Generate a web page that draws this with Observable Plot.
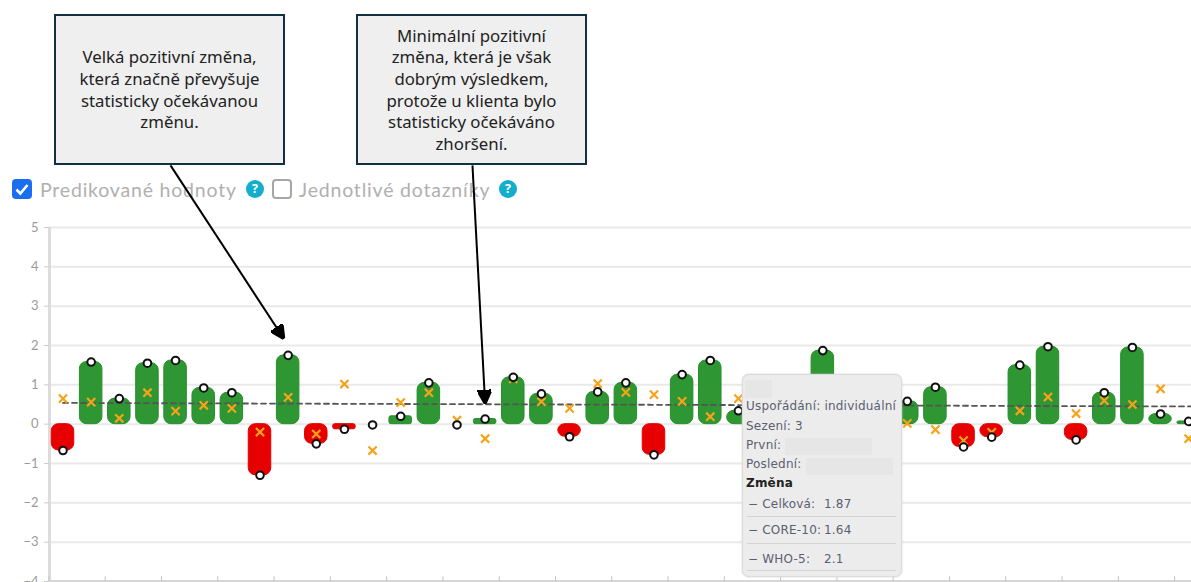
<!DOCTYPE html>
<html lang="cs">
<head>
<meta charset="utf-8">
<script src="https://cdn.jsdelivr.net/npm/d3@7"></script>
<script src="https://cdn.jsdelivr.net/npm/@observablehq/plot@0.6"></script>
<style>
html,body{margin:0;padding:0;background:#fff;overflow:hidden}
#page{position:relative;width:1191px;height:582px;overflow:hidden;font-family:"Open Sans",sans-serif}
#legend{position:absolute;left:0;top:0;width:100%;height:210px;color:#b0b0b0;font-family:"Lato","Open Sans",sans-serif;font-size:19.5px;letter-spacing:.8px}
#legend span,#legend i{position:absolute;font-style:normal}
.lbl{top:177px;line-height:26px;white-space:nowrap}
.box{position:absolute;top:179px;width:20px;height:20px;box-sizing:border-box;border-radius:4px}
.on{left:12px;background:#1a6ff0;}
.off{left:272px;border:2px solid #a6a6a6;background:#fff}
.q{position:absolute;top:180px;width:18px;height:18px;border-radius:50%;background:#12aecb;color:#fff;font:bold 12.5px/18px "Open Sans",sans-serif;text-align:center;letter-spacing:0}
#chart{position:absolute;left:0;top:0}
.callout{position:absolute;top:14px;width:231px;height:151px;box-sizing:border-box;border:2px solid #12303f;background:#efefef;color:#222;font-family:"Noto Sans",sans-serif;font-size:16.8px;line-height:21.6px;text-align:center;display:flex;align-items:center;justify-content:center}
#tip{position:absolute;left:742px;top:374px;width:160px;height:203px;box-sizing:border-box;background:#ececec;border:1.5px solid #dcdcdc;border-radius:7px;box-shadow:0 0 2px #ccc;color:#5a6070;font-family:"DejaVu Sans",sans-serif;font-size:12px;letter-spacing:.2px}
#tip div{position:absolute;white-space:nowrap}
#tip .g{background:#e6e6e6}
#tip hr{position:absolute;left:4px;right:5px;margin:0;border:0;border-top:1px solid #d4d4d4}
</style>
</head>
<body>
<div id="page">
  <div id="legend">
    <i class="box on"><svg width="20" height="20" viewBox="0 0 20 20"><path d="M4.5 10.5l3.8 4L15.5 6" fill="none" stroke="#fff" stroke-width="2.6"/></svg></i>
    <span class="lbl" style="left:40px">Predikované hodnoty</span>
    <i class="q" style="left:246px">?</i>
    <i class="box off"></i>
    <span class="lbl" style="left:299px">Jednotlivé dotazníky</span>
    <i class="q" style="left:499px">?</i>
  </div>
  <div id="chart"></div>
  <div class="callout" style="left:54px"><span>Velká pozitivní změna,<br>která značně převyšuje<br>statisticky očekávanou<br>změnu.</span></div>
  <div class="callout" style="left:356px"><span>Minimální pozitivní<br>změna, která je však<br>dobrým výsledkem,<br>protože u klienta bylo<br>statisticky očekáváno<br>zhoršení.</span></div>
  <div id="tip">
    <div class="g" style="left:2px;top:5px;width:27px;height:18px"></div>
    <div style="left:3px;top:24px">Uspořádání: individuální</div>
    <div style="left:3px;top:44px">Sezení: 3</div>
    <div style="left:3px;top:63px">První:</div>
    <div class="g" style="left:42px;top:63px;width:87px;height:17px"></div>
    <div style="left:3px;top:82px">Poslední:</div>
    <div class="g" style="left:63px;top:83px;width:87px;height:17px"></div>
    <div style="left:3px;top:101px;color:#222;font-weight:bold">Změna</div>
    <div style="left:5px;top:122px">− Celková:</div><div style="left:81px;top:122px">1.87</div>
    <hr style="top:141px">
    <div style="left:5px;top:148px">− CORE-10:</div><div style="left:81px;top:148px">1.64</div>
    <hr style="top:168px">
    <div style="left:5px;top:177px">− WHO-5:</div><div style="left:81px;top:177px">2.1</div>
    <hr style="top:195px">
  </div>
</div>
<script>
// Celková změna per client; null = hidden by the tooltip in the source picture
const totalChange = [-0.67,1.58,0.65,1.55,1.62,0.92,0.80,-1.30,1.75,-0.50,-0.13,-0.02,0.20,1.05,-0.02,0.13,1.19,0.77,-0.32,0.82,1.05,-0.78,1.26,1.62,0.34,null,null,1.87,null,null,0.58,0.94,-0.58,-0.33,1.50,1.97,-0.40,0.80,1.95,0.26,0.07];
const predictedChange = [0.65,0.56,0.15,0.80,0.33,0.48,0.40,-0.20,0.68,-0.25,1.02,-0.67,0.55,0.80,0.10,-0.37,1.15,0.57,0.40,1.03,0.81,0.75,0.58,0.19,0.65,null,null,null,null,null,0.02,-0.14,-0.42,-0.21,0.34,0.69,0.27,0.60,0.50,0.90,-0.37];
const clientIndex = totalChange.map((_, i) => i);
const yTicks = [-4,-3,-2,-1,0,1,2,3,4,5];
const xTicks = [-0.5,1.5,3.5,5.5,7.5,9.5,11.5,13.5,15.5,17.5,19.5,21.5,23.5,25.5,27.5,29.5,31.5,33.5,35.5,37.5,39.5];
const trendX = [0,40.1];
const trendY = [0.54,0.45];
const arrowFromX = [3.82,14.55];
const arrowFromY = [6.58,6.58];
const arrowToX = [7.85,15.0];
const arrowToY = [2.17,0.52];

const rows = clientIndex.map(i => ({i, total: totalChange[i], predicted: predictedChange[i]}));
const trend = trendX.map((x, k) => ({x, y: trendY[k]}));
const arrows = arrowFromX.map((_, k) => ({x1: arrowFromX[k], y1: arrowFromY[k], x2: arrowToX[k], y2: arrowToY[k]}));

function solidHead() {
  const ns = "http://www.w3.org/2000/svg";
  const m = document.createElementNS(ns, "marker");
  m.setAttribute("viewBox", "0 0 10 10");
  m.setAttribute("refX", "10");
  m.setAttribute("refY", "5");
  m.setAttribute("markerWidth", "14");
  m.setAttribute("markerHeight", "14");
  m.setAttribute("markerUnits", "userSpaceOnUse");
  m.setAttribute("orient", "auto");
  const p = document.createElementNS(ns, "path");
  p.setAttribute("d", "M0 0L10 5L0 10Z");
  p.setAttribute("fill", "#000");
  m.appendChild(p);
  return m;
}

const barProps = {x1: d => d.i - 0.4, x2: d => d.i + 0.4, y1: 0, y2: "total"};
const large = d => Math.abs(d.total) >= 0.25;
const small = d => Math.abs(d.total) >= 0.05 && Math.abs(d.total) < 0.25;

const chart = Plot.plot({
  width: 1191,
  height: 582,
  marginLeft: 49,
  marginRight: 0,
  marginTop: 227,
  marginBottom: 1,
  style: {background: "transparent", overflow: "visible"},
  x: {domain: [-0.48, 40.1], axis: null},
  y: {domain: [-4, 5]},
  marks: [
    Plot.gridY(yTicks, {stroke: "#e9e9e9", strokeOpacity: 1, strokeWidth: 2}),
    Plot.ruleX([-0.48], {stroke: "#dcdcdc", strokeWidth: 3, y1: -4, y2: 5}),
    Plot.ruleY([-4], {stroke: "#d6d6d6", strokeWidth: 3}),
    Plot.ruleX(xTicks, {y1: -4, y2: -3.88, stroke: "#c4c4c4"}),
    Plot.axisY({ticks: yTicks, tickSize: 5, tickPadding: 6, stroke: "#ccc", color: "#9a9a9a", fontSize: 13, fontFamily: "Lato, sans-serif", label: null}),
    Plot.rect(rows, {...barProps, rx: 7, filter: d => large(d) && d.total > 0, fill: "#2e9632", stroke: "#26902c"}),
    Plot.rect(rows, {...barProps, rx: 7, filter: d => large(d) && d.total < 0, fill: "#e60000", stroke: "#e60000"}),
    Plot.rect(rows, {...barProps, rx: 2, filter: d => small(d) && d.total > 0, fill: "#2e9632", stroke: "#26902c"}),
    Plot.rect(rows, {...barProps, rx: 2, filter: d => small(d) && d.total < 0, fill: "#e60000", stroke: "#e60000"}),
    Plot.line(trend, {x: "x", y: "y", stroke: "#555", strokeWidth: 1.8, strokeDasharray: "5,4"}),
    Plot.dot(rows, {filter: d => d.predicted != null, x: "i", y: "predicted", symbol: "times", r: 3.8, stroke: "#f5a31a", strokeWidth: 2.2}),
    Plot.dot(rows, {filter: d => d.total != null, x: "i", y: "total", r: 3.8, fill: "#fff", stroke: "#111", strokeWidth: 2}),
    Plot.link(arrows, {x1: "x1", y1: "y1", x2: "x2", y2: "y2", stroke: "#000", strokeWidth: 2, markerEnd: solidHead})
  ]
});
document.getElementById("chart").appendChild(chart);
</script>
</body>
</html>
